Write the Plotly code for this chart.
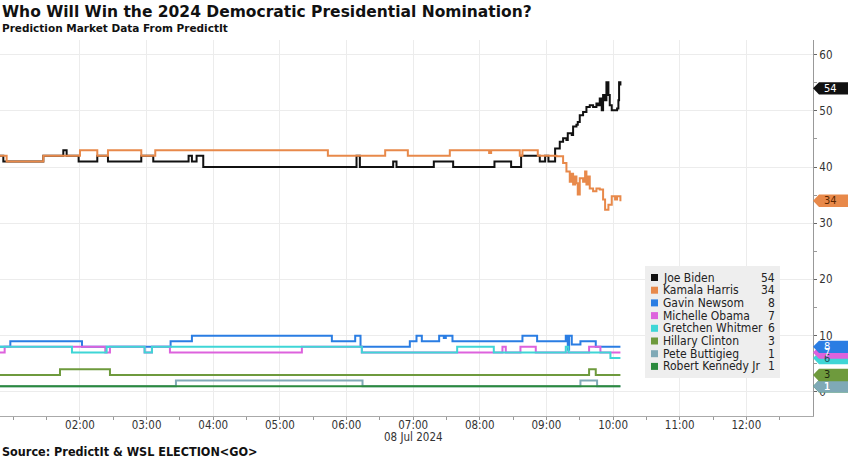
import plotly.graph_objects as go
import pandas as pd

# ---------------- data (hours after midnight, 08 Jul 2024; market price in cents) ----------------
DATE_LABEL = "08 Jul 2024"
names = ["Joe Biden", "Kamala Harris", "Gavin Newsom", "Michelle Obama",
         "Gretchen Whitmer", "Hillary Clinton", "Pete Buttigieg", "Robert Kennedy Jr"]
colors = ["#111111", "#e8894a", "#2a7de3", "#dd62dd", "#3fd6d6", "#6e9a3d", "#7fa9b6", "#2b8a3e"]
tag_text_colors = ["#ffffff", "#5a2600", "#ffffff", "#ffffff", "#1d4d55", "#1e2a10", "#ffffff", "#ffffff"]
last_values = [54, 34, 8, 7, 6, 3, 1, 1]

biden_t = [0.80, 0.85, 1.45, 1.75, 1.80, 1.98, 2.26, 2.42, 2.92, 3.10, 3.63, 3.68, 3.75, 3.85,
           6.15, 6.20, 6.70, 6.75, 7.31, 7.60, 8.22, 8.47, 8.62, 8.90, 8.98, 9.03, 9.13, 9.20,
           9.25, 9.30, 9.32, 9.38, 9.40, 9.45, 9.47, 9.50, 9.55, 9.60, 9.65, 9.70, 9.75, 9.78,
           9.80, 9.83, 9.85, 9.88, 9.90, 9.93, 9.95, 9.98, 10.06, 10.08, 10.09, 10.11]
biden_v = [42, 41, 42, 43, 42, 41, 42, 41, 42, 41, 42, 41, 42, 40,
           42, 40, 41, 40, 41, 40, 41, 40, 42, 41, 42, 41, 43.3, 44.5,
           45.1, 44.8, 46, 45.7, 47.2, 47.5, 48, 49.2, 49.8, 50.7, 51, 50.7, 51.3, 51,
           52.2, 50.1, 52.8, 51.9, 55.1, 52.8, 51, 50.1, 50.4, 51.9, 55.1, 54.5]

harris_t = [0.80, 0.90, 1.45, 2.00, 2.26, 2.42, 2.92, 3.13, 5.72, 6.58, 6.92, 7.55, 8.14, 8.17,
            8.60, 8.64, 8.87, 9.15, 9.25, 9.30, 9.35, 9.38, 9.40, 9.43, 9.45, 9.47, 9.50,
            9.55, 9.58, 9.60, 9.62, 9.65, 9.70, 9.75, 9.80, 9.85, 9.88, 9.93, 9.98, 10.03,
            10.06, 10.11]
harris_v = [42, 41, 42, 43, 42, 43, 42, 43, 42, 43, 42, 43, 42.5, 43,
            42, 43, 42, 41.9, 40.7, 39.2, 37.4, 38.8, 36.9, 38.3, 37.1, 35.1, 38,
            37.4, 39.2, 36.9, 38.3, 36.2, 35.7, 36.2, 36, 34.2, 32.4, 33.3, 34.8, 34.2,
            34.8, 33.9]

newsom_t = [0.80, 0.955, 2.03, 3.36, 3.68, 5.78, 6.13, 6.21, 6.95, 7.05, 7.13, 7.39, 7.46, 7.49,
            7.59, 8.64, 8.86, 9.29, 9.32, 9.34, 9.38, 9.51, 9.74, 10.11]
newsom_v = [8, 9, 8, 9, 10, 9, 10, 8, 9, 10, 9, 10, 9.6, 10,
            9, 10, 9, 10, 7.5, 10, 8.4, 9, 8, 8]

obama_t = [0.80, 0.87, 2.38, 2.45, 2.97, 3.08, 3.35, 5.33, 6.23, 8.34, 8.39, 8.61, 8.84,
           9.64, 9.81, 10.11]
obama_v = [7, 8, 7, 8, 7, 8, 7, 8, 7, 8, 7, 8, 7, 8, 7, 7]

whitmer_t = [0.80, 1.88, 2.40, 2.97, 3.08, 6.23, 7.66, 8.21, 9.29, 9.33, 9.96, 10.11]
whitmer_v = [8, 7, 8, 7, 8, 7, 8, 7, 8, 7, 6, 6]

clinton_t = [0.80, 1.70, 2.45, 9.64, 9.74, 10.11]
clinton_v = [3, 4, 3, 4, 3, 3]

buttigieg_t = [0.80, 3.44, 6.24, 9.51, 9.76, 10.11]
buttigieg_v = [1, 2, 1, 2, 1, 1]

kennedy_t = [0.80, 10.11]
kennedy_v = [1, 1]

series_t = [biden_t, harris_t, newsom_t, obama_t, whitmer_t, clinton_t, buttigieg_t, kennedy_t]
series_v = [biden_v, harris_v, newsom_v, obama_v, whitmer_v, clinton_v, buttigieg_v, kennedy_v]

x_tick_hours = list(range(2, 13))
x_minor_hours = [h / 2 for h in range(2, 26)]
y_tick_vals = [0, 10, 20, 30, 40, 50, 60]
x_range_hours = [0.80, 13.0]
y_range = [-4.3, 62.6]

TITLE = "Who Will Win the 2024 Democratic Presidential Nomination?"
SUBTITLE = "Prediction Market Data From PredictIt"
SOURCE = "Source: PredictIt &amp; WSL ELECTION&lt;GO&gt;"

# ---------------- helpers ----------------
BASE = pd.Timestamp("2024-07-08")


def to_time(hours):
    return [BASE + pd.Timedelta(hours=h) for h in hours]


W, H = 848, 459
ML, MR, MT, MB = 0, 35, 40, 43
PW, PH = W - ML - MR, H - MT - MB


def px(x):
    return (x - ML) / PW


def py(y):
    return (H - MB - y) / PH


COND = "Liberation Sans Narrow, DejaVu Sans Condensed, Arial Narrow, sans-serif"
BOLD = "DejaVu Sans, Verdana, sans-serif"

fig = go.Figure()
for n, c, t, v in zip(names, colors, series_t, series_v):
    fig.add_trace(go.Scatter(x=to_time(t), y=v, name=n, mode="lines",
                             line=dict(color=c, width=2, shape="hv"),
                             showlegend=False, hoverinfo="skip"))

shapes = []
annotations = []

# legend box
shapes.append(dict(type="rect", xref="paper", yref="paper",
                   x0=px(645), x1=px(780), y0=py(378), y1=py(266),
                   fillcolor="#eeeeee", line=dict(width=0), layer="above"))
for i, (n, c, lv) in enumerate(zip(names, colors, last_values)):
    yc = 277.5 + i * 12.7
    shapes.append(dict(type="rect", xref="paper", yref="paper",
                       x0=px(651), x1=px(658), y0=py(yc + 3.5), y1=py(yc - 3.5),
                       fillcolor=c, line=dict(width=0), layer="above"))
    annotations.append(dict(xref="paper", yref="paper", x=px(661), y=py(yc), text=n,
                            xanchor="left", yanchor="middle", showarrow=False,
                            font=dict(family=COND, size=12, color="#222222")))
    annotations.append(dict(xref="paper", yref="paper", x=px(777), y=py(yc), text=str(lv),
                            xanchor="right", yanchor="middle", showarrow=False,
                            font=dict(family=COND, size=12, color="#222222")))

# last-value tags on the right axis (drawn bottom series first so top series sit above)
hh = 6.2 * (y_range[1] - y_range[0]) / PH
for i in reversed(range(len(names))):
    v = last_values[i]
    x0, x1, x2 = 1.0, px(ML + PW + 6), px(W + 2)
    shapes.append(dict(type="path", xref="paper", yref="y",
                       path=f"M {x0},{v} L {x1},{v + hh} L {x2},{v + hh} L {x2},{v - hh} L {x1},{v - hh} Z",
                       fillcolor=colors[i], line=dict(width=0), layer="above"))
    annotations.append(dict(xref="paper", yref="y", x=px(ML + PW + 9), y=v, text=str(v),
                            xanchor="left", yanchor="middle", showarrow=False,
                            font=dict(family=COND, size=11, color=tag_text_colors[i])))

# titles and source
annotations.append(dict(xref="paper", yref="paper", x=px(0), y=py(12), text=f"<b>{TITLE}</b>",
                        xanchor="left", yanchor="middle", showarrow=False,
                        font=dict(family=BOLD, size=15.5, color="#111111")))
annotations.append(dict(xref="paper", yref="paper", x=px(0), y=py(28), text=f"<b>{SUBTITLE}</b>",
                        xanchor="left", yanchor="middle", showarrow=False,
                        font=dict(family=BOLD, size=10.5, color="#111111")))
annotations.append(dict(xref="paper", yref="paper", x=px(0), y=py(451), text=f"<b>{SOURCE}</b>",
                        xanchor="left", yanchor="middle", showarrow=False,
                        font=dict(family="DejaVu Sans Condensed, sans-serif", size=12.5, color="#111111")))
annotations.append(dict(xref="x", yref="paper", x=BASE + pd.Timedelta(hours=7), y=py(437),
                        text=DATE_LABEL, xanchor="center", yanchor="middle", showarrow=False,
                        font=dict(family=COND, size=11.5, color="#333333")))

fig.update_layout(
    width=W, height=H,
    margin=dict(l=ML, r=MR, t=MT, b=MB),
    paper_bgcolor="white", plot_bgcolor="white",
    shapes=shapes, annotations=annotations,
    xaxis=dict(type="date", range=to_time(x_range_hours),
               tickvals=to_time(x_tick_hours), tickformat="%H:%M",
               ticks="outside", ticklen=3, tickcolor="#999999",
               ticklabelstandoff=-5,
               tickfont=dict(family=COND, size=11.5, color="#333333"),
               showgrid=True, gridcolor="#ececec", gridwidth=1,
               showline=True, linecolor="#aaaaaa", linewidth=1,
               minor=dict(tickvals=to_time(x_minor_hours), ticks="outside", ticklen=3,
                          tickcolor="#999999", showgrid=False),
               zeroline=False, fixedrange=True),
    yaxis=dict(side="right", range=y_range, tickvals=y_tick_vals,
               ticks="outside", ticklen=3, tickcolor="#666666",
               tickfont=dict(family=COND, size=11.5, color="#333333"),
               showgrid=True, gridcolor="#ececec", gridwidth=1,
               showline=True, linecolor="#999999", linewidth=1,
               minor=dict(dtick=5, ticks="outside", ticklen=3, tickcolor="#999999", showgrid=False),
               zeroline=False, fixedrange=True),
)

fig.write_html("out.html")
